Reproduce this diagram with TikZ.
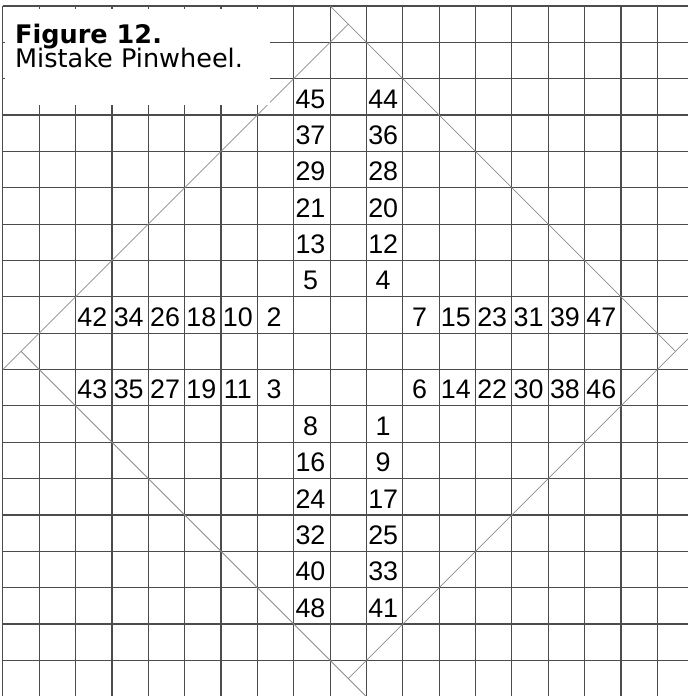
\documentclass[tikz,border=0pt]{standalone}
\usepackage{fontspec}
\setmainfont{Liberation Sans}
\newfontfamily\titlefont{DejaVu Sans}
\usepackage{tikz}
\usetikzlibrary{positioning, calc}

\tikzset{
  gridline/.style={draw=black!70, line width=0.9pt},
  edgeline/.style={draw=black!45, line width=0.6pt},
  num/.style={anchor=base, inner sep=0pt, font=\fontsize{21}{24}\selectfont},
  titletext/.style={anchor=base west, inner sep=0pt, font=\titlefont\fontsize{20}{24}\selectfont}
}

\begin{document}
\begin{tikzpicture}[x=1cm, y=-1cm]
        \useasboundingbox (-0.08,-0.165) rectangle (18.82,18.98);

        % grid of squares
        \foreach \i in {0,...,19} \draw[gridline] (\i,0) -- (\i,19.2);
        \foreach \j in {0,...,19} \draw[gridline] (0,\j) -- (19.2,\j);

        % corners of the square, each side runs on past one corner
        \coordinate (top) at (9.5,0.5);
        \coordinate (left) at (0.5,9.5);
        \coordinate (bottom) at (9.5,18.5);
        \coordinate (right) at (18.5,9.5);
        \coordinate (topx) at (9,0);
        \coordinate (leftx) at (0,10);
        \coordinate (bottomx) at (10,19);
        \coordinate (rightx) at (19,9);

        \draw[edgeline] (topx) -- (right);
        \draw[edgeline] (top) -- (leftx);
        \draw[edgeline] (left) -- (bottomx);
        \draw[edgeline] (bottom) -- (rightx);

        % numbers, upper arms
        \foreach \v [count=\k from 0] in {45,37,29,21,13,5}
            \node[num] (n\v) at (8.46,2.81+\k) {\v};
        \foreach \v [count=\k from 0] in {44,36,28,20,12,4}
            \node[num] (n\v) at (10.46,2.81+\k) {\v};

        % numbers, side arms
        \foreach \v [count=\k from 0] in {42,34,26,18,10,2}
            \node[num] (n\v) at (2.46+\k,8.81) {\v};
        \foreach \v [count=\k from 0] in {7,15,23,31,39,47}
            \node[num] (n\v) at (11.46+\k,8.81) {\v};
        \foreach \v [count=\k from 0] in {43,35,27,19,11,3}
            \node[num] (n\v) at (2.46+\k,10.81) {\v};
        \foreach \v [count=\k from 0] in {6,14,22,30,38,46}
            \node[num] (n\v) at (11.46+\k,10.81) {\v};

        % numbers, lower arms
        \foreach \v [count=\k from 0] in {8,16,24,32,40,48}
            \node[num] (n\v) at (8.46,11.81+\k) {\v};
        \foreach \v [count=\k from 0] in {1,9,17,25,33,41}
            \node[num] (n\v) at (10.46,11.81+\k) {\v};

        % caption
        \fill[white] (0.05,0.08) rectangle (7.35,2.73);
        \node[titletext] (fig) at (0.33,1.02) {\bfseries Figure 12.};
        \node[titletext] (name) at (0.33,1.68) {Mistake Pinwheel.};
\end{tikzpicture}
\end{document}
